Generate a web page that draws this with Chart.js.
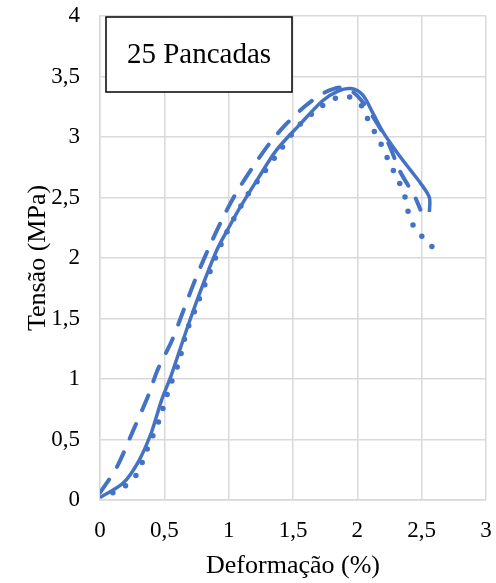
<!DOCTYPE html>
<html>
<head>
<meta charset="utf-8">
<script src="https://cdn.jsdelivr.net/npm/chart.js@4.4.0/dist/chart.umd.min.js"></script>
<style>
  html, body { margin: 0; padding: 0; background: #fff; }
  #wrap { width: 496px; height: 583px; }
</style>
</head>
<body>
<div id="wrap"><canvas id="grafico"></canvas></div>
<script>
// curva continua
const solidX = [0, 0.18, 0.30, 0.40, 0.48, 0.55, 0.62, 0.70, 0.80, 0.91, 1.00, 1.09, 1.23, 1.37, 1.55, 1.73, 1.85, 1.95, 2.04, 2.12, 2.20, 2.31, 2.41, 2.49, 2.56, 2.56];
const solidY = [0.02, 0.14, 0.32, 0.56, 0.83, 1.02, 1.24, 1.49, 1.78, 2.07, 2.25, 2.42, 2.66, 2.89, 3.10, 3.30, 3.38, 3.40, 3.35, 3.20, 3.04, 2.87, 2.73, 2.62, 2.50, 2.38];

// curva tracejada
const dashX = [0, 0.13, 0.26, 0.37, 0.45, 0.56, 0.65, 0.74, 0.84, 0.95, 1.06, 1.20, 1.32, 1.45, 1.60, 1.75, 1.89, 2.00, 2.12, 2.24, 2.33, 2.45, 2.49];
const dashY = [0.06, 0.27, 0.58, 0.85, 1.08, 1.32, 1.57, 1.82, 2.07, 2.32, 2.54, 2.77, 2.95, 3.11, 3.26, 3.37, 3.41, 3.34, 3.17, 2.95, 2.72, 2.50, 2.40];

// curva pontilhada
const dotX = [0.10, 0.20, 0.29, 0.37, 0.46, 0.53, 0.61, 0.67, 0.75, 0.83, 0.97, 1.14, 1.27, 1.40, 1.55, 1.73, 1.83, 1.94, 2.04, 2.08, 2.14, 2.19, 2.24, 2.29, 2.34, 2.38, 2.40, 2.45, 2.53, 2.61];
const dotY = [0.06, 0.12, 0.22, 0.43, 0.66, 0.90, 1.13, 1.38, 1.60, 1.82, 2.18, 2.51, 2.70, 2.89, 3.10, 3.26, 3.32, 3.33, 3.25, 3.15, 3.03, 2.93, 2.81, 2.70, 2.59, 2.47, 2.36, 2.24, 2.15, 2.06];

const xTicks = [0, 0.5, 1, 1.5, 2, 2.5, 3];
const yTicks = [0, 0.5, 1, 1.5, 2, 2.5, 3, 3.5, 4];
const boxLabel = '25 Pancadas';

const azul = '#4472C4';
const serif = "'Liberation Serif', 'Times New Roman', serif";

const pts = (xs, ys) => xs.map((x, i) => ({x: x, y: ys[i]}));
const virgula = (v) => String(v).replace('.', ',');

const caixaTexto = {
    id: 'caixaTexto',
    afterDraw(chart) {
        const ctx = chart.ctx;
        const a = chart.chartArea;
        const x = a.left + 6, y = a.top + 1, w = 186, h = 75;
        ctx.save();
        ctx.fillStyle = '#fff';
        ctx.fillRect(x, y, w, h);
        ctx.strokeStyle = '#000';
        ctx.lineWidth = 1.5;
        ctx.strokeRect(x, y, w, h);
        ctx.fillStyle = '#000';
        ctx.font = '29px ' + serif;
        ctx.textAlign = 'center';
        ctx.textBaseline = 'middle';
        ctx.fillText(boxLabel, x + w / 2, y + h / 2 + 1);
        ctx.restore();
    }
};

new Chart(document.getElementById('grafico').getContext('2d'), {
    type: 'scatter',
    data: {
        datasets: [
            {
                data: pts(solidX, solidY),
                showLine: true,
                borderColor: azul,
                borderWidth: 3.5,
                pointRadius: 0,
                tension: 0.3
            },
            {
                data: pts(dashX, dashY),
                showLine: true,
                borderColor: azul,
                borderWidth: 4,
                borderDash: [16, 15],
                borderCapStyle: 'round',
                pointRadius: 0,
                tension: 0.3
            },
            {
                data: pts(dotX, dotY),
                showLine: true,
                borderColor: azul,
                borderWidth: 5.5,
                borderDash: [0, 14.5],
                borderCapStyle: 'round',
                pointRadius: 0,
                tension: 0.3
            }
        ]
    },
    options: {
        responsive: true,
        maintainAspectRatio: false,
        animation: false,
        layout: {padding: {top: 16, right: 10, left: 0, bottom: 0}},
        plugins: {
            legend: {display: false},
            tooltip: {enabled: false}
        },
        scales: {
            x: {
                type: 'linear',
                min: 0,
                max: 3,
                afterBuildTicks: (s) => { s.ticks = xTicks.map(v => ({value: v})); },
                afterFit: (s) => { s.height = 83; s.paddingLeft = 0; s.paddingRight = 0; },
                grid: {color: '#d9d9d9', lineWidth: 1.5, drawTicks: false},
                border: {color: '#d9d9d9', width: 1.5},
                ticks: {
                    color: '#000',
                    padding: 17,
                    font: {family: serif, size: 23},
                    callback: virgula
                },
                title: {
                    display: true,
                    text: 'Deformação (%)',
                    color: '#000',
                    font: {family: serif, size: 26},
                    padding: {top: 0, bottom: 1}
                }
            },
            y: {
                type: 'linear',
                min: 0,
                max: 4,
                afterBuildTicks: (s) => { s.ticks = yTicks.map(v => ({value: v})); },
                afterFit: (s) => { s.width = 100; s.paddingTop = 0; s.paddingBottom = 0; },
                grid: {color: '#d9d9d9', lineWidth: 1.5, drawTicks: false},
                border: {color: '#d9d9d9', width: 1.5},
                ticks: {
                    color: '#000',
                    padding: 20,
                    font: {family: serif, size: 23},
                    callback: virgula
                },
                title: {
                    display: true,
                    text: 'Tensão (MPa)',
                    color: '#000',
                    font: {family: serif, size: 26},
                    padding: {top: 23, bottom: 0}
                }
            }
        }
    },
    plugins: [caixaTexto]
});
</script>
</body>
</html>
